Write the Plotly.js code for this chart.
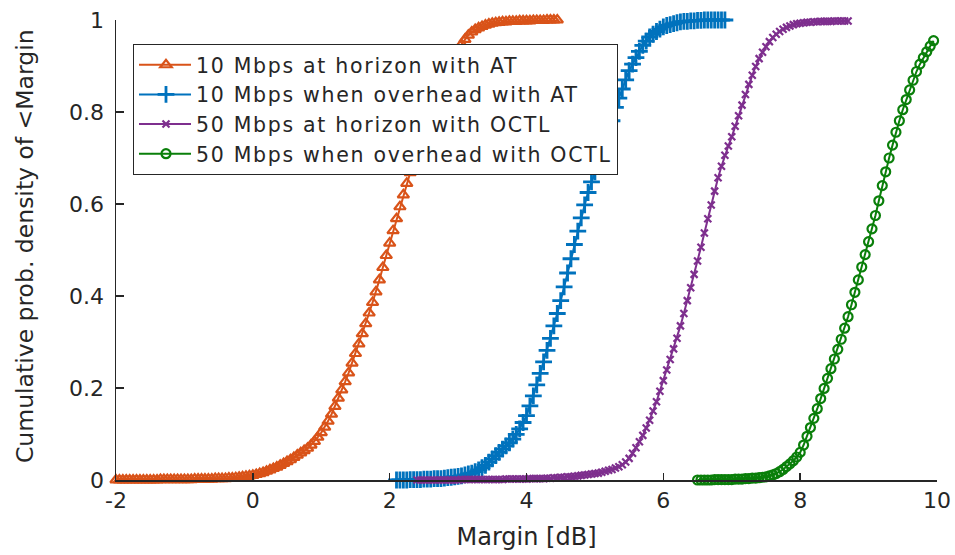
<!DOCTYPE html>
<html>
<head>
<meta charset="utf-8">
<script src="https://cdn.plot.ly/plotly-3.0.1.min.js"></script>
<style>
html,body{margin:0;padding:0;background:#fff;}
#chart{width:955px;height:555px;}
.legendtext{letter-spacing:1.7px;}
.legendpoints path.scatterpts{transform:translate(32px,0px);}
</style>
</head>
<body>
<div id="chart"></div>
<script>
// ---- Data ----
const seriesNames = [
  "10 Mbps at horizon with AT",
  "10 Mbps when overhead with AT",
  "50 Mbps at horizon with OCTL",
  "50 Mbps when overhead with OCTL"
];

const orangeX = [-2.0,-1.95,-1.9,-1.85,-1.8,-1.75,-1.7,-1.65,-1.6,-1.55,-1.5,-1.45,-1.4,-1.35,-1.3,-1.25,-1.2,-1.15,-1.1,-1.05,-1.0,-0.95,-0.9,-0.85,-0.8,-0.75,-0.7,-0.65,-0.6,-0.55,-0.5,-0.45,-0.4,-0.35,-0.3,-0.25,-0.2,-0.15,-0.1,-0.05,0.0,
  0.05,0.1,0.15,0.2,0.25,0.3,0.35,0.4,0.45,0.5,0.55,0.6,0.65,0.7,0.75,0.8,0.85,0.9,0.95,1.0,1.05,1.1,1.15,1.2,1.25,1.3,1.35,1.4,1.45,1.5,1.55,1.6,1.65,1.7,1.75,1.8,1.85,1.9,1.95,2.0,2.05,2.1,2.15,2.2,2.25,2.3,2.35,2.4,2.45,2.5,2.55,2.6,2.65,2.7,2.75,2.8,2.85,2.9,2.95,3.0,3.05,3.1,3.15,3.2,3.25,3.3,3.35,3.4,3.45,3.5,
  3.55,3.6,3.65,3.7,3.75,3.8,3.85,3.9,3.95,4.0,4.05,4.1,4.15,4.2,4.25,4.3,4.35,4.4,4.45];
const orangeY = [0,0,0,0,0,0,0,0,0,0,0,0,0,0.001,0.001,0.001,0.001,0.001,0.001,0.001,0.001,0.001,0.001,0.002,0.002,0.002,0.002,0.002,0.002,0.003,0.003,0.003,0.003,0.004,0.004,0.005,0.006,0.007,0.008,0.009,0.010,
  0.012,0.014,0.016,0.019,0.022,0.025,0.028,0.032,0.036,0.040,0.044,0.049,0.054,0.059,0.064,0.069,0.076,0.084,0.093,0.103,0.115,0.128,0.143,0.160,0.178,0.196,0.214,0.233,0.254,0.275,0.296,0.318,0.340,0.363,0.386,0.409,0.435,0.462,0.488,0.515,0.542,0.568,0.594,0.620,0.645,0.668,0.688,0.706,0.724,0.742,0.761,0.780,0.797,0.815,0.835,0.855,0.875,0.895,0.915,0.935,0.947,0.958,0.967,0.974,0.979,0.983,0.986,0.989,0.991,0.993,
  0.994,0.995,0.996,0.996,0.997,0.997,0.997,0.998,0.998,0.998,0.998,0.999,0.999,0.999,0.999,1.0,1.0,1.0,1.0];

const blueX = [2.1,2.15,2.2,2.25,2.3,2.35,2.4,2.45,2.5,2.55,2.6,2.65,2.7,2.75,2.8,2.85,2.9,2.95,3.0,3.05,3.1,3.15,3.2,
  3.25,3.3,3.35,3.4,3.45,3.5,3.55,3.6,3.65,3.7,3.75,3.8,3.85,3.9,3.95,4.0,4.05,4.1,4.15,4.2,4.25,4.3,4.35,4.4,4.45,4.5,4.55,4.6,4.65,4.7,4.75,4.8,4.85,4.9,4.95,5.0,5.05,5.1,5.15,5.2,5.25,5.3,5.35,5.4,5.45,5.5,5.55,5.6,5.65,5.7,5.75,5.8,5.85,5.9,5.95,6.0,6.05,6.1,6.15,6.2,6.25,6.3,
  6.35,6.4,6.45,6.5,6.55,6.6,6.65,6.7,6.75,6.8,6.85,6.9];
const blueY = [0,0,0,0,0.001,0.001,0.001,0.001,0.002,0.002,0.002,0.003,0.003,0.003,0.004,0.005,0.006,0.007,0.008,0.009,0.011,0.013,0.015,
  0.018,0.022,0.027,0.032,0.039,0.046,0.053,0.060,0.067,0.074,0.081,0.089,0.099,0.111,0.125,0.140,0.161,0.183,0.207,0.232,0.257,0.282,0.308,0.335,0.362,0.390,0.420,0.450,0.481,0.512,0.541,0.570,0.598,0.625,0.648,0.670,0.690,0.710,0.730,0.752,0.781,0.810,0.830,0.850,0.870,0.890,0.904,0.918,0.932,0.945,0.954,0.963,0.969,0.975,0.980,0.985,0.988,0.990,0.992,0.994,0.996,0.997,
  0.997,0.998,0.998,0.999,0.999,1.0,1.0,1.0,1.0,1.0,1.0,1.0];

const purpleX = [2.4,2.45,2.5,2.55,2.6,2.65,2.7,2.75,2.8,2.85,2.9,2.95,3.0,3.05,3.1,3.15,3.2,3.25,3.3,3.35,3.4,3.45,3.5,3.55,3.6,3.65,3.7,3.75,3.8,3.85,3.9,3.95,4.0,4.05,4.1,4.15,4.2,4.25,4.3,4.35,4.4,4.45,4.5,4.55,4.6,4.65,4.7,4.75,4.8,4.85,4.9,4.95,5.0,
  5.05,5.1,5.15,5.2,5.25,5.3,5.35,5.4,5.45,5.5,5.55,5.6,5.65,5.7,5.75,5.8,5.85,5.9,5.95,6.0,6.05,6.1,6.15,6.2,6.25,6.3,6.35,6.4,6.45,6.5,6.55,6.6,6.65,6.7,6.75,6.8,6.85,6.9,6.95,7.0,7.05,7.1,7.15,7.2,7.25,7.3,7.35,7.4,7.45,7.5,7.55,7.6,7.65,7.7,7.75,7.8,7.85,7.9,7.95,8.0,
  8.05,8.1,8.15,8.2,8.25,8.3,8.35,8.4,8.45,8.5,8.55,8.6,8.65,8.7];
const purpleY = [0,0,0,0,0,0,0,0,0,0,0,0,0,0.001,0.001,0.001,0.001,0.001,0.001,0.001,0.001,0.001,0.001,0.001,0.001,0.001,0.002,0.002,0.002,0.002,0.002,0.002,0.002,0.003,0.003,0.003,0.003,0.003,0.004,0.004,0.005,0.005,0.006,0.006,0.007,0.007,0.008,0.009,0.010,0.011,0.012,0.013,0.014,
  0.015,0.017,0.019,0.021,0.023,0.026,0.029,0.033,0.039,0.047,0.058,0.070,0.083,0.097,0.113,0.130,0.150,0.170,0.193,0.216,0.239,0.262,0.285,0.308,0.335,0.362,0.390,0.418,0.447,0.476,0.506,0.537,0.568,0.598,0.628,0.657,0.682,0.706,0.726,0.746,0.769,0.792,0.815,0.838,0.860,0.880,0.899,0.916,0.930,0.942,0.953,0.962,0.969,0.975,0.980,0.984,0.987,0.990,0.992,0.993,
  0.994,0.995,0.995,0.996,0.996,0.997,0.997,0.997,0.997,0.998,0.998,0.998,0.998,0.998];

const greenX = [6.5,6.55,6.6,6.65,6.7,6.75,6.8,6.85,6.9,6.95,7.0,7.05,7.1,7.15,7.2,7.25,7.3,7.35,7.4,
  7.45,7.5,7.55,7.6,7.65,7.7,7.75,7.8,7.85,7.9,7.95,8.0,8.05,8.1,8.15,8.2,8.25,8.3,8.35,8.4,8.45,8.5,8.55,8.6,8.65,8.7,8.75,8.8,8.85,8.9,8.95,9.0,9.05,9.1,9.15,9.2,9.25,9.3,9.35,9.4,9.45,9.5,9.55,9.6,9.65,9.7,9.75,9.8,9.85,9.9,9.95];
const greenY = [0,0,0,0,0,0.001,0.001,0.001,0.001,0.001,0.001,0.002,0.002,0.002,0.003,0.003,0.004,0.004,0.005,
  0.006,0.007,0.009,0.011,0.014,0.018,0.023,0.029,0.035,0.042,0.050,0.060,0.076,0.095,0.114,0.134,0.155,0.177,0.199,0.221,0.242,0.263,0.284,0.306,0.330,0.355,0.381,0.408,0.435,0.463,0.490,0.518,0.546,0.575,0.607,0.640,0.670,0.700,0.728,0.756,0.781,0.805,0.827,0.848,0.869,0.888,0.904,0.918,0.931,0.943,0.955];

const xTickVals = [-2, 0, 2, 4, 6, 8, 10];
const xTickText = ["-2", "0", "2", "4", "6", "8", "10"];
const yTickVals = [0, 0.2, 0.4, 0.6, 0.8, 1];
const yTickText = ["0", "0.2", "0.4", "0.6", "0.8", "1"];

const xTitle = "Margin [dB]";
const yTitle = "Cumulative prob. density of <Margin";

// ---- Styling ----
const FONT = "DejaVu Sans, Arial, sans-serif";
const TXT = "#262626";

const traces = [
  {x: orangeX, y: orangeY, name: seriesNames[0], type: "scatter", mode: "lines+markers", cliponaxis: false,
   line: {color: "#D95319", width: 2},
   marker: {symbol: "triangle-up-open", size: 10, color: "#D95319", line: {width: 2.2, color: "#D95319"}}},
  {x: blueX, y: blueY, name: seriesNames[1], type: "scatter", mode: "lines+markers", cliponaxis: false,
   line: {color: "#0072BD", width: 2},
   marker: {symbol: "cross-thin-open", size: 12, color: "#0072BD", line: {width: 2.8, color: "#0072BD"}}},
  {x: purpleX, y: purpleY, name: seriesNames[2], type: "scatter", mode: "lines+markers", cliponaxis: false,
   line: {color: "#7E2F8E", width: 2},
   marker: {symbol: "x-thin-open", size: 7, color: "#7E2F8E", line: {width: 2.2, color: "#7E2F8E"}}},
  {x: greenX, y: greenY, name: seriesNames[3], type: "scatter", mode: "lines+markers", cliponaxis: false,
   line: {color: "#0A7F0A", width: 2},
   marker: {symbol: "circle-open", size: 9, color: "#0A7F0A", line: {width: 2.2, color: "#0A7F0A"}}}
];

const layout = {
  width: 955, height: 555, autosize: false,
  paper_bgcolor: "#ffffff", plot_bgcolor: "#ffffff",
  margin: {l: 116, r: 18, t: 20, b: 75, pad: 0},
  font: {family: FONT, color: TXT, size: 20},
  showlegend: true,
  xaxis: {
    range: [-2, 10], autorange: false, fixedrange: true,
    showgrid: false, zeroline: false,
    showline: true, linecolor: TXT, linewidth: 1.5, mirror: false,
    ticks: "inside", ticklen: 7, tickwidth: 1.5, tickcolor: TXT,
    tickmode: "array", tickvals: xTickVals, ticktext: xTickText,
    tickfont: {family: FONT, size: 22, color: TXT},
    ticklabelstandoff: 0,
    title: {text: xTitle, font: {family: FONT, size: 24, color: TXT}, standoff: 16},
    automargin: false
  },
  yaxis: {
    range: [0, 1], autorange: false, fixedrange: true,
    showgrid: false, zeroline: false,
    showline: true, linecolor: TXT, linewidth: 1.5, mirror: false,
    ticks: "inside", ticklen: 8, tickwidth: 1.5, tickcolor: TXT,
    tickmode: "array", tickvals: yTickVals, ticktext: yTickText,
    tickfont: {family: FONT, size: 22, color: TXT},
    ticklabelstandoff: 6,
    automargin: false
  },
  legend: {
    x: 0.0207, y: 0.948, xanchor: "left", yanchor: "top",
    bgcolor: "#ffffff", bordercolor: TXT, borderwidth: 1,
    font: {family: FONT, size: 20.5, color: TXT},
    itemwidth: 52, tracegroupgap: 0
  },
  annotations: [{
    text: yTitle, textangle: -90, showarrow: false,
    xref: "paper", yref: "paper", x: -0.1108, y: 0.0326,
    xanchor: "center", yanchor: "bottom",
    font: {family: FONT, size: 23.5, color: TXT}
  }]
};

Plotly.newPlot("chart", traces, layout, {displayModeBar: false, staticPlot: true});
</script>
</body>
</html>
